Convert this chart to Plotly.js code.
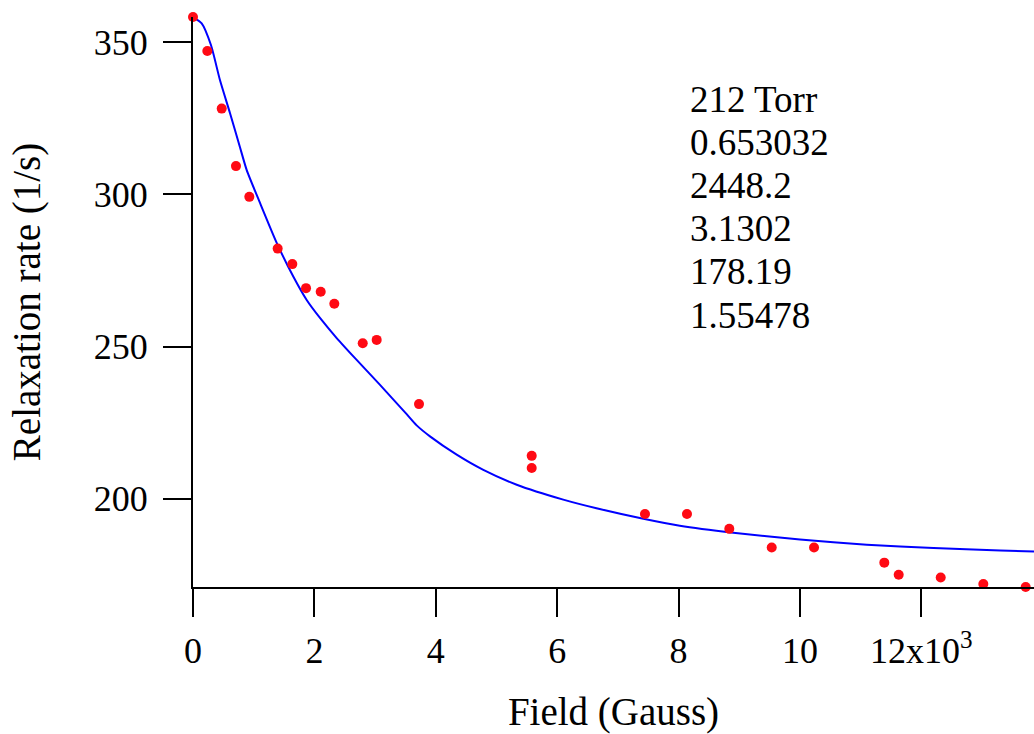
<!DOCTYPE html>
<html><head><meta charset="utf-8">
<script src="https://cdn.plot.ly/plotly-3.0.1.min.js"></script>
<style>html,body{margin:0;padding:0;background:#fff}#chart{width:1034px;height:734px}</style>
</head><body><div id="chart"></div>
<script>
// Measured data (Field in Gauss, relaxation rate in 1/s)
const fieldGauss = [0,236,473,708,928,1395,1636,1862,2104,2328,2796,3026,3723,5580,5580,7446,8138,8835,9534,10231,11389,11626,12318,13020,13718];
const relaxRate  = [358.3,347.1,328.2,309.3,299.2,282.2,277.1,269.2,268.0,264.1,251.1,252.2,231.1,214.1,210.1,195.0,195.0,190.1,184.0,184.0,179.0,175.0,174.1,172.0,171.0];

// Fitted curve
const fitField = [0,143,297,445,610,774,885,1104,1379,1652,1873,2092,2367,2669,3081,3493,3685,3904,4344,4783,5333,6100,6700,7420,8020,8900,10000,11100,12200,13300,13855];
const fitRate  = [358.2,356.2,349.0,337.5,326.7,315.5,308.0,297.2,284.1,273.0,265.3,259.4,252.8,246.2,237.4,228.4,224.1,220.5,214.5,209.5,204.6,199.7,196.6,193.4,191.1,188.8,186.6,184.9,183.8,183.0,182.7];

const xTickVals = [0,2000,4000,6000,8000,10000,12000];
const xTickText = ['0','2','4','6','8','10','12x10<sup>3</sup>'];
const yTickVals = [200,250,300,350];
const yTickText = ['200','250','300','350'];

const fitLines = ['212 Torr','0.653032','2448.2','3.1302','178.19','1.55478'];

const FONT = 'Liberation Serif, Times New Roman, serif';

const traces = [
  {x: fitField, y: fitRate, mode: 'lines', type: 'scatter',
   line: {color: 'rgb(0,0,255)', width: 2, shape: 'spline', smoothing: 0.6},
   cliponaxis: false, hoverinfo: 'skip'},
  {x: fieldGauss, y: relaxRate, mode: 'markers', type: 'scatter',
   marker: {color: 'rgb(255,10,20)', size: 10, line: {width: 0}},
   cliponaxis: false}
];

const annotations = fitLines.map((t, i) => ({
  text: t, xref: 'paper', yref: 'paper', x: 0.588, y: 0.856 - i*0.0758,
  xanchor: 'left', yanchor: 'middle', showarrow: false,
  font: {family: FONT, size: 37, color: '#000'}
}));

const layout = {
  width: 1034, height: 734,
  margin: {l: 193, r: 0, t: 17, b: 147, pad: 0},
  paper_bgcolor: '#fff', plot_bgcolor: '#fff',
  showlegend: false,
  font: {family: FONT, size: 36, color: '#000'},
  xaxis: {
    range: [0, 13855], showgrid: false, zeroline: false,
    showline: true, linecolor: '#000', linewidth: 2,
    ticks: 'outside', ticklen: 28, tickwidth: 2, tickcolor: '#000',
    tickmode: 'array', tickvals: xTickVals, ticktext: xTickText,
    ticklabelstandoff: 3,
    tickfont: {family: FONT, size: 36, color: '#000'},
    title: {text: 'Field (Gauss)', font: {family: FONT, size: 39, color: '#000'}, standoff: 30}
  },
  yaxis: {
    range: [171.0, 358.3], showgrid: false, zeroline: false,
    showline: true, linecolor: '#000', linewidth: 2,
    ticks: 'outside', ticklen: 28, tickwidth: 2, tickcolor: '#000',
    tickmode: 'array', tickvals: yTickVals, ticktext: yTickText,
    ticklabelstandoff: 8,
    tickfont: {family: FONT, size: 36, color: '#000'},
    title: {text: 'Relaxation rate (1/s)', font: {family: FONT, size: 39, color: '#000'}, standoff: 41}
  },
  annotations: annotations
};

Plotly.newPlot('chart', traces, layout, {displayModeBar: false, staticPlot: true});
</script>
</body></html>
